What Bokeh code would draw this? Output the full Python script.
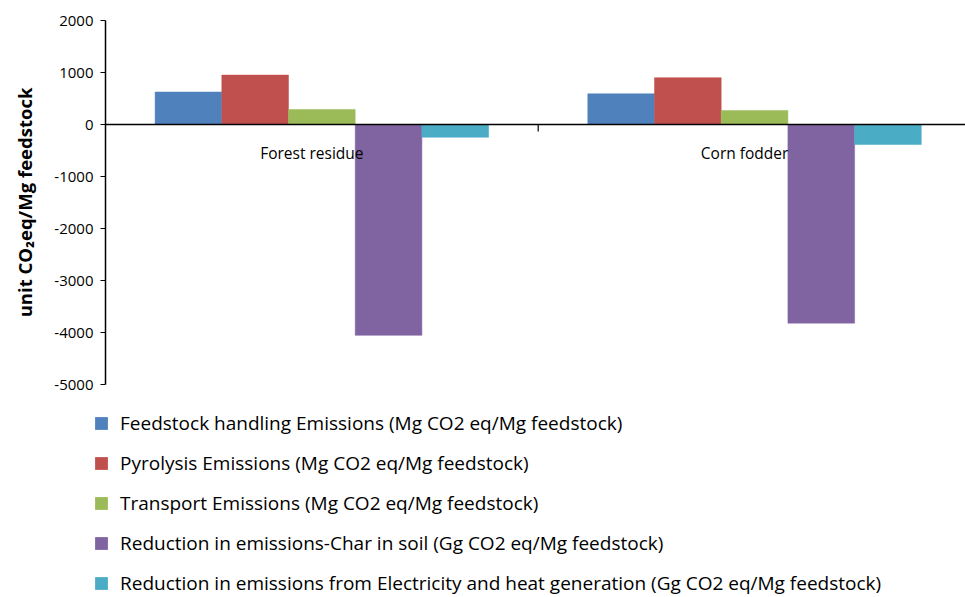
from bokeh.plotting import figure
from bokeh.layouts import column
from bokeh.models import Range1d, FixedTicker, Span, Legend, LegendItem, ColumnDataSource
from bokeh.core.properties import value
from bokeh.embed import file_html
from bokeh.resources import INLINE

# ---- data ----
categories = ["Forest residue", "Corn fodder"]
series_names = [
    "Feedstock handling Emissions (Mg CO2 eq/Mg feedstock)",
    "Pyrolysis Emissions (Mg CO2 eq/Mg feedstock)",
    "Transport Emissions (Mg CO2 eq/Mg feedstock)",
    "Reduction in emissions-Char in soil (Gg CO2 eq/Mg feedstock)",
    "Reduction in emissions from Electricity and heat generation (Gg CO2 eq/Mg feedstock)",
]
feedstock_handling = [625, 590]
pyrolysis = [950, 900]
transport = [290, 270]
char_in_soil = [-4055, -3820]
electricity_heat = [-245, -385]
y_ticks = [-5000, -4000, -3000, -2000, -1000, 0, 1000, 2000]
y_tick_labels = ["-5000", "-4000", "-3000", "-2000", "-1000", "0", "1000", "2000"]

series_values = [feedstock_handling, pyrolysis, transport, char_in_soil, electricity_heat]
colors = ["#4F81BD", "#C0504D", "#9BBB59", "#8064A2", "#4BACC6"]

# ---- layout constants ----
W = 965
H_top = 400
H_leg = 197
left, top, bottom = 105, 20, 16
frame_w = W - left
cat_px = 432.7
px_per_unit = 0.052
bar_w = 66.7 / cat_px
font = "Open Sans"

p = figure(width=W, height=H_top, x_range=Range1d(0, frame_w / cat_px),
           y_range=Range1d(-5000, 2000), x_axis_type=None,
           output_backend="svg", toolbar_location=None,
           min_border_left=left, min_border_right=0, min_border_top=top, min_border_bottom=bottom)
p.outline_line_color = None
p.ygrid.visible = False
p.frame_align = False

n = len(series_values)
for k, (vals, c) in enumerate(zip(series_values, colors)):
    xs = [i + 0.5 + (k - (n - 1) / 2) * bar_w for i in range(len(categories))]
    src = ColumnDataSource(dict(x=xs, top=vals))
    p.vbar(x="x", top="top", bottom=0, width=bar_w, source=src,
           fill_color=c, line_color=c, line_width=0.5)

# zero line
p.add_layout(Span(location=0, dimension="width", line_color="black", line_width=1.5))
# category divider tick
p.segment(x0=[1], y0=[0], x1=[1], y1=[-7 / px_per_unit], line_color="black", line_width=1.2)

# category labels
p.text(x=[i + 0.5 for i in range(len(categories))], y=[0] * len(categories), text=categories,
       x_offset=-10, y_offset=28, text_align="center", text_baseline="middle",
       text_font=value(font), text_font_size="15.5px", text_color="black")

# y axis
ax = p.yaxis[0]
ax.ticker = FixedTicker(ticks=y_ticks)
ax.major_label_overrides = {t: l for t, l in zip(y_ticks, y_tick_labels)}
ax.minor_tick_line_color = None
ax.major_tick_in = 0
ax.major_tick_out = 5
ax.axis_line_color = "black"
ax.axis_line_width = 1.5
ax.major_tick_line_color = "black"
ax.major_tick_line_width = 1.2
ax.major_label_text_font = font
ax.major_label_text_font_size = "15px"
ax.major_label_text_color = "black"
ax.major_label_standoff = 7
ax.axis_label = "unit CO\u2082eq/Mg feedstock"
ax.axis_label_text_font = font
ax.axis_label_text_font_size = "18.5px"
ax.axis_label_text_font_style = "bold"
ax.axis_label_text_color = "black"
ax.axis_label_standoff = 14

# ---- legend panel ----
q = figure(width=W, height=H_leg, x_range=Range1d(0, 1), y_range=Range1d(0, 1),
           x_axis_type=None, y_axis_type=None, output_backend="svg", toolbar_location=None,
           min_border=0)
q.outline_line_color = None
q.frame_align = False
items = []
for name, c in zip(series_names, colors):
    # legend-only renderer, placed outside the visible range
    r = q.vbar(x=[0.5], top=[-10], bottom=[-11], width=0.1, fill_color=c, line_color=None)
    items.append(LegendItem(label=name, renderers=[r]))
legend = Legend(items=items, location=(93, 1), orientation="vertical",
                glyph_width=16, glyph_height=16, label_height=20, spacing=14,
                label_standoff=11, padding=0, margin=0,
                label_text_font=font, label_text_font_size="19px", label_text_color="black",
                border_line_color=None, background_fill_alpha=0)
q.add_layout(legend)

layout = column(p, q, spacing=0)
open("out.html", "w").write(file_html(layout, INLINE))
